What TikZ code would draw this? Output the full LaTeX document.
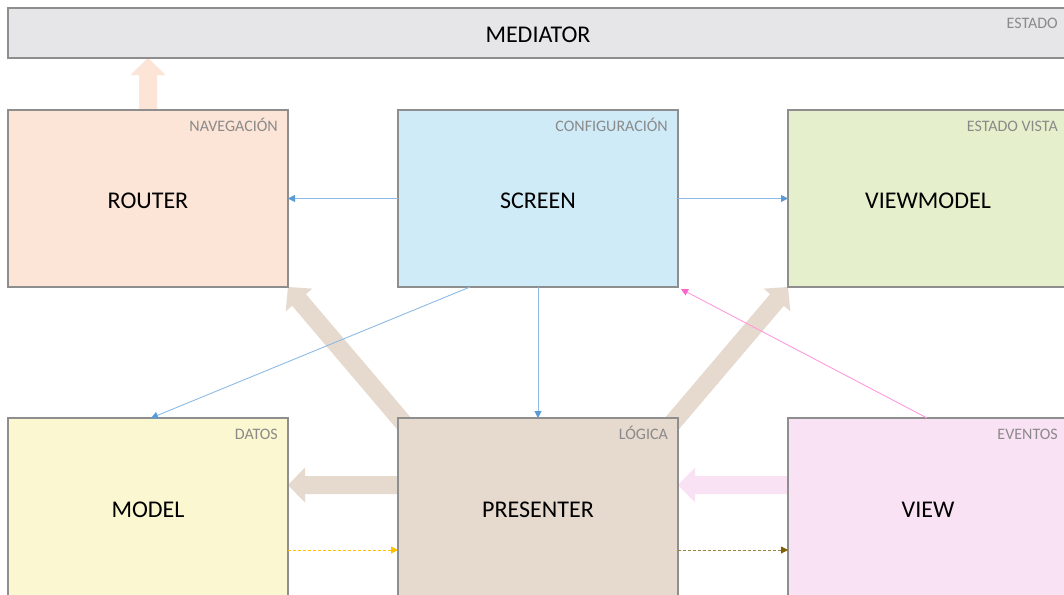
\documentclass[tikz,border=0pt]{standalone}
\usepackage{fontspec}
\setmainfont{Carlito}
\usetikzlibrary{arrows.meta,calc}
\pgfdeclarelayer{back}
\pgfsetlayers{back,main}

\definecolor{framegray}{HTML}{8E8E8E}
\definecolor{taggray}{HTML}{8A8A8A}
\definecolor{medfill}{HTML}{E6E6E8}
\definecolor{routerfill}{HTML}{FCE4D6}
\definecolor{screenfill}{HTML}{D0EBF8}
\definecolor{vmfill}{HTML}{E6EFCB}
\definecolor{modelfill}{HTML}{FAF7D1}
\definecolor{presfill}{HTML}{E6D9CE}
\definecolor{viewfill}{HTML}{FAE2F5}
\definecolor{linkblue}{HTML}{8DBBE6}
\definecolor{tipblue}{HTML}{5B9BD5}
\definecolor{linkpink}{HTML}{FF9ADF}
\definecolor{tippink}{HTML}{FF66CC}
\definecolor{linkyellow}{HTML}{FFC000}
\definecolor{linkbrown}{HTML}{9A8240}
\definecolor{tipbrown}{HTML}{7F6000}

% wide block arrow: #1 fill, #2 start, #3 tip
\newcommand\fatarrow[3]{%
  \coordinate (fa-s) at #2;
  \coordinate (fa-t) at #3;
  \coordinate (fa-b) at ($(fa-t)!17pt!(fa-s)$);
  \fill[#1] ($(fa-s)!9pt!90:(fa-t)$) -- ($(fa-b)!9pt!-90:(fa-s)$)
    -- ($(fa-b)!17.5pt!-90:(fa-s)$) -- (fa-t) -- ($(fa-b)!17.5pt!90:(fa-s)$)
    -- ($(fa-b)!9pt!90:(fa-s)$) -- ($(fa-s)!9pt!-90:(fa-t)$) -- cycle;}

\begin{document}
\begin{tikzpicture}[x=1pt,y=-1pt,
  block/.style={draw=framegray, line width=1.5pt, minimum width=280pt,
    minimum height=177pt, anchor=north west, inner sep=0pt, outer sep=0pt,
    font=\fontsize{24}{28}\selectfont, text=black,
    text height=19.5pt, text depth=0pt},
  lowblock/.style={block, minimum height=179pt},
  tag/.style={anchor=base east, text=taggray, inner sep=0pt,
    font=\fontsize{16}{19}\selectfont},
  thinlink/.style={line width=0.9pt},
  bluelink/.style={thinlink, draw=linkblue, -{Triangle[length=7pt,width=7pt,color=tipblue]}},
  pinklink/.style={thinlink, draw=linkpink, -{Triangle[length=7pt,width=7pt,color=tippink]}},
  yellowlink/.style={thinlink, draw=linkyellow, dash pattern=on 3pt off 2pt,
    -{Triangle[length=7pt,width=7pt,color=linkyellow]}},
  brownlink/.style={thinlink, draw=linkbrown, dash pattern=on 3pt off 2pt,
    -{Triangle[length=7pt,width=7pt,color=tipbrown]}}]

\useasboundingbox (0,0) rectangle (1064,594);
\clip (0,0) rectangle (1064,594);

% blocks
\node[block, fill=medfill, minimum width=1060pt, minimum height=50pt] (mediator) at (8,8) {MEDIATOR};
\node[block, fill=routerfill] (router) at (8,110) {ROUTER};
\node[block, fill=screenfill] (screen) at (398,110) {SCREEN};
\node[block, fill=vmfill] (viewmodel) at (788,110) {VIEWMODEL};
\node[lowblock, fill=modelfill] (model) at (8,418) {MODEL};
\node[lowblock, fill=presfill] (presenter) at (398,418) {PRESENTER};
\node[lowblock, fill=viewfill] (view) at (788,418) {VIEW};

% corner tags
\node[tag] (tmed) at ($(mediator.north east)+(-10,21)$) {ESTADO};
\node[tag] (trouter) at ($(router.north east)+(-10,21)$) {NAVEGACIÓN};
\node[tag] (tscreen) at ($(screen.north east)+(-10,21)$) {CONFIGURACIÓN};
\node[tag] (tvm) at ($(viewmodel.north east)+(-10,21)$) {ESTADO VISTA};
\node[tag] (tmodel) at ($(model.north east)+(-10,21)$) {DATOS};
\node[tag] (tpres) at ($(presenter.north east)+(-10,21)$) {LÓGICA};
\node[tag] (tview) at ($(view.north east)+(-10,21)$) {EVENTOS};

% wide arrows behind the blocks
\begin{pgfonlayer}{back}
  \fill[white] (0,0) rectangle (1064,594);
  \fatarrow{routerfill}{(router.north)}{(router.north |- mediator.south)}
  \fatarrow{presfill}{($(presenter.north west)+(26,29)$)}{(router.south east)}
  \fatarrow{presfill}{($(presenter.north east)+(-26,29)$)}{(viewmodel.south west)}
  \fatarrow{presfill}{($(presenter.north west)+(0,67)$)}{($(model.north east)+(0,67)$)}
  \fatarrow{viewfill}{($(view.north west)+(0,67)$)}{($(presenter.north east)+(0,67)$)}
\end{pgfonlayer}

% thin links
\draw[bluelink] (screen.west) -- (router.east);
\draw[bluelink] (screen.east) -- (viewmodel.west);
\draw[bluelink] (screen.south) -- (presenter.north);
\draw[bluelink] ($(screen.south)+(-68,0)$) -- ($(model.north)+(3,0)$);
\draw[pinklink] ($(view.north)+(-1,0)$) -- ($(screen.south east)+(3,2)$);
\draw[yellowlink] ($(model.north east)+(0,132)$) -- ($(presenter.north west)+(0,132)$);
\draw[brownlink] ($(presenter.north east)+(0,132)$) -- ($(view.north west)+(0,132)$);

\end{tikzpicture}
\end{document}
